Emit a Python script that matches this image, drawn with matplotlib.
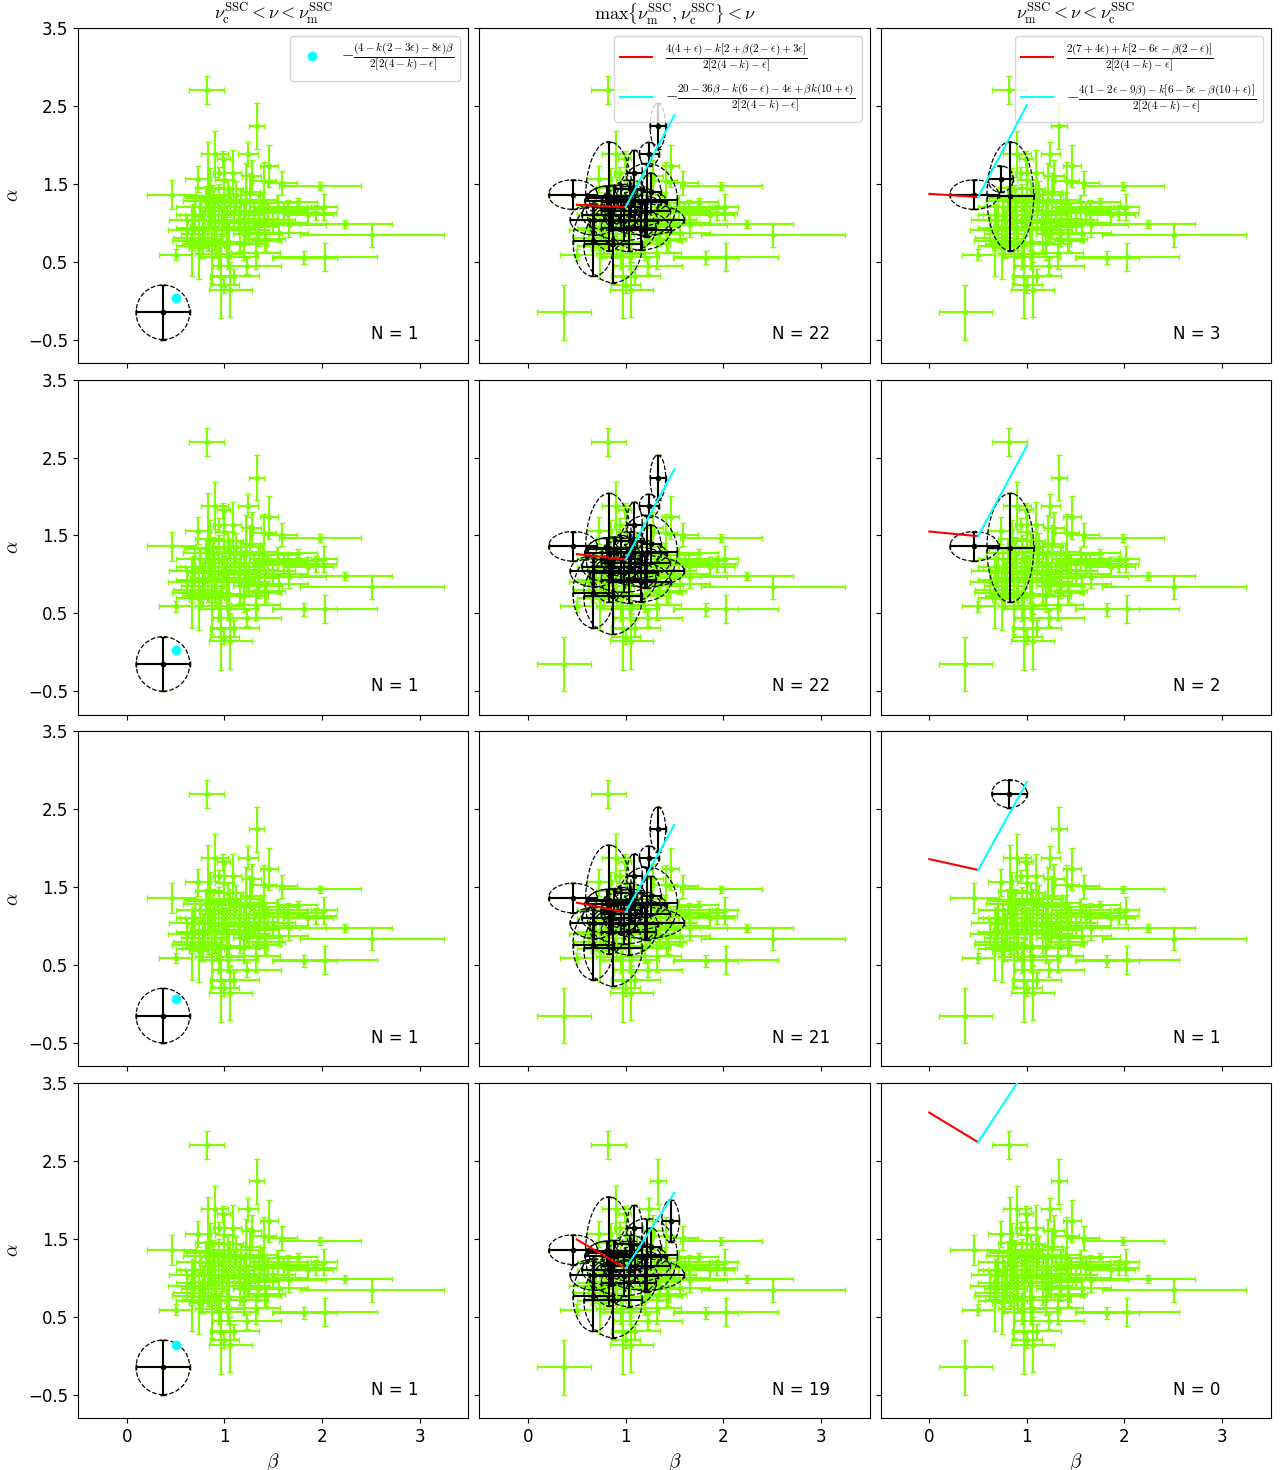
import numpy as np
import matplotlib.pyplot as plt
from matplotlib.patches import Ellipse

plt.rcParams['mathtext.fontset'] = 'cm'

# spectral index beta, temporal index alpha and their errors (all bursts)
beta = [0.82, 1.33, 0.90, 0.99, 1.24, 1.46, 0.94, 1.09, 0.73, 0.46,
        1.41, 1.59, 1.98, 1.75, 2.02, 1.86, 1.94, 2.24, 2.51, 1.82,
        2.03, 0.50, 1.04, 1.32, 1.23, 0.97, 1.10, 1.00, 1.06, 0.74,
        1.56, 1.66, 1.43, 0.83, 0.67, 0.87, 1.22, 1.04, 1.26, 0.81,
        1.06, 1.17, 1.65, 1.61, 0.68, 0.98, 1.20, 1.42, 0.80, 1.03,
        1.50, 0.67, 0.75, 0.91, 1.16, 1.34, 1.42, 0.75, 0.85, 0.95,
        1.10, 1.30, 1.40, 0.70, 0.90, 1.15, 1.25, 0.78, 1.00, 0.88,
        1.12, 1.35, 0.62, 1.05, 1.20, 0.95, 1.45, 1.55, 0.85, 1.00,
        1.28, 0.37]
alpha = [2.70, 2.24, 1.88, 1.82, 1.88, 1.73, 1.64, 1.64, 1.56, 1.36,
         1.53, 1.51, 1.47, 1.27, 1.20, 1.10, 1.13, 0.98, 0.84, 0.55,
         0.56, 0.59, 0.56, 0.61, 0.44, 0.30, 0.31, 0.20, 0.14, 0.68,
         0.87, 0.97, 0.76, 1.34, 0.76, 0.72, 1.29, 1.43, 1.39, 1.32,
         1.27, 1.27, 1.17, 1.12, 1.04, 1.02, 1.04, 1.04, 0.93, 0.93,
         1.00, 0.80, 0.70, 0.75, 0.90, 0.85, 0.79, 1.20, 1.10, 1.20,
         1.15, 1.15, 1.25, 1.10, 0.95, 1.00, 0.95, 0.85, 1.10, 1.28,
         1.35, 1.05, 0.90, 0.75, 0.72, 0.60, 1.15, 1.20, 1.45, 1.55,
         1.60, -0.15]
beta_err = [0.18, 0.08, 0.14, 0.07, 0.10, 0.09, 0.06, 0.08, 0.13, 0.25,
            0.12, 0.15, 0.42, 0.20, 0.13, 0.25, 0.20, 0.48, 0.74, 0.33,
            0.53, 0.17, 0.30, 0.25, 0.35, 0.12, 0.25, 0.15, 0.22, 0.10,
            0.30, 0.38, 0.15, 0.24, 0.21, 0.30, 0.31, 0.15, 0.10, 0.20,
            0.30, 0.25, 0.35, 0.30, 0.25, 0.35, 0.40, 0.30, 0.30, 0.28,
            0.35, 0.20, 0.25, 0.30, 0.30, 0.25, 0.20, 0.25, 0.30, 0.20,
            0.35, 0.30, 0.35, 0.20, 0.25, 0.30, 0.30, 0.22, 0.40, 0.30,
            0.25, 0.20, 0.20, 0.20, 0.25, 0.25, 0.40, 0.30, 0.15, 0.10,
            0.10, 0.275]
alpha_err = [0.18, 0.29, 0.30, 0.10, 0.15, 0.27, 0.08, 0.29, 0.17, 0.19,
             0.25, 0.15, 0.05, 0.05, 0.17, 0.12, 0.10, 0.05, 0.15, 0.08,
             0.18, 0.07, 0.15, 0.20, 0.10, 0.53, 0.10, 0.10, 0.35, 0.40,
             0.12, 0.15, 0.12, 0.70, 0.45, 0.49, 0.47, 0.12, 0.25, 0.15,
             0.20, 0.15, 0.12, 0.15, 0.20, 0.25, 0.20, 0.18, 0.22, 0.30,
             0.12, 0.15, 0.15, 0.20, 0.25, 0.15, 0.18, 0.15, 0.20, 0.30,
             0.20, 0.12, 0.15, 0.25, 0.30, 0.15, 0.20, 0.30, 0.15, 0.20,
             0.18, 0.30, 0.20, 0.25, 0.20, 0.20, 0.10, 0.15, 0.25, 0.25,
             0.20, 0.35]

# bursts satisfying each closure relation (indices above), rows x columns
sel_col1 = [[81], [81], [81], [81]]
sel_col2_base = [9, 1, 4, 33, 34, 35, 36, 7, 37, 38, 39, 40, 41, 44, 45, 46,
                 49, 54, 58, 59, 60, 69]
sel_col2 = [sel_col2_base,
            sel_col2_base,
            [i for i in sel_col2_base if i != 54],
            [i for i in sel_col2_base if i not in (54, 1, 4, 59)] + [5]]
sel_col3 = [[9, 33, 8], [9, 33], [0], []]

# closure relation values
cyan_dot_beta = 0.5
cyan_dot_alpha = [0.03, 0.03, 0.06, 0.14]
col2_red_beta = [0.5, 1.0]
col2_red_alpha = [[1.23, 1.20], [1.26, 1.19], [1.30, 1.18], [1.49, 1.12]]
col2_cyan_beta = [1.0, 1.5]
col2_cyan_alpha = [[1.20, 2.38], [1.19, 2.35], [1.18, 2.30], [1.12, 2.09]]
col3_red_beta = [0.0, 0.5]
col3_red_alpha = [[1.37, 1.33], [1.55, 1.49], [1.86, 1.72], [3.12, 2.74]]
col3_cyan_beta = [0.5, 1.0]
col3_cyan_alpha = [[1.33, 2.51], [1.49, 2.65], [1.72, 2.85], [2.74, 3.69]]

titles = [r'$\nu_{\rm c}^{\rm SSC} < \nu < \nu_{\rm m}^{\rm SSC}$',
          r'$\max\left\{\nu_{\rm m}^{\rm SSC}, \nu_{\rm c}^{\rm SSC}\right\} < \nu$',
          r'$\nu_{\rm m}^{\rm SSC} < \nu < \nu_{\rm c}^{\rm SSC}$']
lab1 = r'$-\frac{(4-k(2-3\epsilon)-8\epsilon)\beta}{2[2(4-k)-\epsilon]}$'
lab2r = r'$\frac{4(4+\epsilon)-k[2+\beta(2-\epsilon)+3\epsilon]}{2[2(4-k)-\epsilon]}$'
lab2c = r'$-\frac{20-36\beta-k(6-\epsilon)-4\epsilon+\beta k(10+\epsilon)}{2[2(4-k)-\epsilon]}$'
lab3r = r'$\frac{2(7+4\epsilon)+k[2-6\epsilon-\beta(2-\epsilon)]}{2[2(4-k)-\epsilon]}$'
lab3c = r'$-\frac{4(1-2\epsilon-9\beta)-k[6-5\epsilon-\beta(10+\epsilon)]}{2[2(4-k)-\epsilon]}$'

beta = np.array(beta)
alpha = np.array(alpha)
beta_err = np.array(beta_err)
alpha_err = np.array(alpha_err)

green = '#7FFF00'

fig, axes = plt.subplots(4, 3, figsize=(12.85, 14.7), dpi=100, sharex=True, sharey=True)
plt.subplots_adjust(left=0.0607, right=0.989, top=0.981, bottom=0.0354,
                    wspace=0.028, hspace=0.05)


def draw_selected(ax, idx):
    idx = list(idx)
    if len(idx) == 0:
        return
    for i in idx:
        e = Ellipse((beta[i], alpha[i]), 2 * beta_err[i], 2 * alpha_err[i],
                    fill=False, ls='--', ec='k', lw=0.9, zorder=4)
        ax.add_patch(e)
    ax.errorbar(beta[idx], alpha[idx], xerr=beta_err[idx], yerr=alpha_err[idx],
                fmt='o', color='k', ms=3, capsize=2, elinewidth=1.5, zorder=5)


for r in range(4):
    for c in range(3):
        ax = axes[r, c]
        ax.errorbar(beta, alpha, xerr=beta_err, yerr=alpha_err, fmt='o',
                    color=green, ms=3, capsize=2, elinewidth=1.5, zorder=2)
        if c == 0:
            sel = sel_col1[r]
            draw_selected(ax, sel)
            ax.plot(cyan_dot_beta, cyan_dot_alpha[r], 'o', color='cyan', ms=6,
                    label=lab1, zorder=6)
        elif c == 1:
            sel = sel_col2[r]
            draw_selected(ax, sel)
            ax.plot(col2_red_beta, col2_red_alpha[r], color='red', lw=1.5,
                    label=lab2r, zorder=6)
            ax.plot(col2_cyan_beta, col2_cyan_alpha[r], color='cyan', lw=1.5,
                    label=lab2c, zorder=6)
        else:
            sel = sel_col3[r]
            draw_selected(ax, sel)
            ax.plot(col3_red_beta, col3_red_alpha[r], color='red', lw=1.5,
                    label=lab3r, zorder=6)
            ax.plot(col3_cyan_beta, col3_cyan_alpha[r], color='cyan', lw=1.5,
                    label=lab3c, zorder=6)
        ax.text(0.75, 0.07, 'N = %d' % len(sel), transform=ax.transAxes,
                fontsize=12)
        if r == 0:
            ax.set_title(titles[c], fontsize=13)
            ax.legend(loc='upper right', fontsize=11.5)
        if c == 0:
            ax.set_ylabel(r'$\alpha$', fontsize=14)
        if r == 3:
            ax.set_xlabel(r'$\beta$', fontsize=14)
        ax.tick_params(labelsize=12)

ax = axes[0, 0]
ax.set_xlim(-0.5, 3.5)
ax.set_ylim(-0.8, 3.5)
ax.set_xticks([0, 1, 2, 3])
ax.set_yticks([-0.5, 0.5, 1.5, 2.5, 3.5])

plt.savefig('out.png', dpi=100)
